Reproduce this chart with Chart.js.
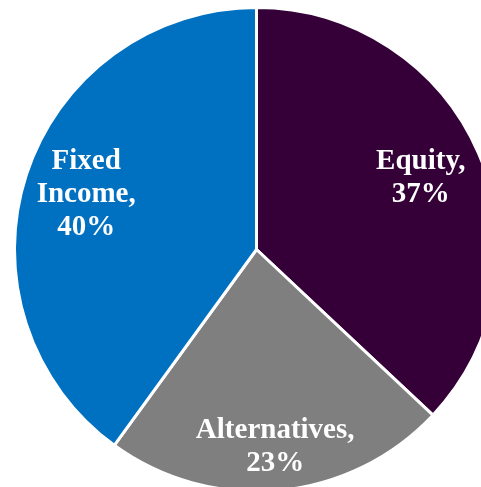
<!DOCTYPE html>
<html>
<head>
<meta charset="utf-8">
<script src="https://cdn.jsdelivr.net/npm/chart.js@4"></script>
<style>
  html, body { margin: 0; padding: 0; background: #ffffff; overflow: hidden; }
  body { width: 481px; height: 487px; position: relative; }
  #allocation { position: absolute; left: 13px; top: 6px; }
</style>
</head>
<body>
<canvas id="allocation" width="487" height="487"></canvas>
<script>
// Répartition des actifs
const categories = ["Equity", "Alternatives", "Fixed Income"];
const allocations = [37, 23, 40];
const sliceLabels = [["Equity,", "37%"], ["Alternatives,", "23%"], ["Fixed", "Income,", "40%"]];
const labelRadius = [0.74, 0.82, 0.74];

// Couleurs de remplissage
const sliceColors = ["#350037", "#7f7f7f", "#0070c0"];

// Dessine les libellés dans chaque secteur
const sliceLabelPlugin = {
  id: "sliceLabels",
  afterDatasetsDraw(chart) {
    const ctx = chart.ctx;
    const arcs = chart.getDatasetMeta(0).data;
    ctx.save();
    ctx.fillStyle = "#ffffff";
    ctx.font = "bold 29px 'Liberation Serif', 'Times New Roman', serif";
    ctx.textAlign = "center";
    ctx.textBaseline = "middle";
    const lineHeight = 33;
    arcs.forEach((arc, i) => {
      const mid = (arc.startAngle + arc.endAngle) / 2;
      const r = arc.outerRadius * labelRadius[i];
      const cx = arc.x + Math.cos(mid) * r;
      const cy = arc.y + Math.sin(mid) * r;
      const lines = sliceLabels[i];
      lines.forEach((line, j) => {
        ctx.fillText(line, cx, cy + (j - (lines.length - 1) / 2) * lineHeight);
      });
    });
    ctx.restore();
  },
};

new Chart(document.getElementById("allocation"), {
  type: "pie",
  data: {
    labels: categories,
    datasets: [
      {
        data: allocations,
        backgroundColor: sliceColors,
        borderColor: "#ffffff",
        borderWidth: 3,
      },
    ],
  },
  options: {
    responsive: false,
    animation: false,
    layout: { padding: 0 },
    plugins: {
      legend: { display: false },
      tooltip: { enabled: false },
    },
  },
  plugins: [sliceLabelPlugin],
});
</script>
</body>
</html>
